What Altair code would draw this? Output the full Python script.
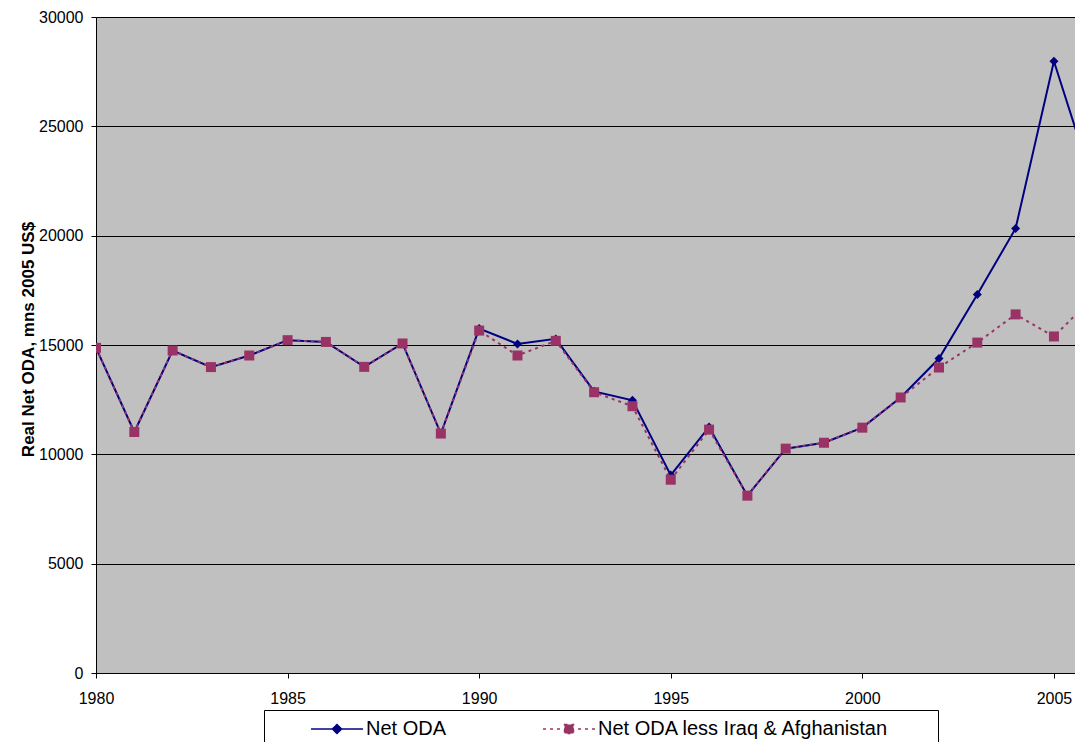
import altair as alt
import pandas as pd

years = list(range(1980, 2007))
net_oda = [14870, 11020, 14750, 13990, 14520, 15220, 15140, 14000, 15070, 10950,
           15750, 15050, 15280, 12880, 12470, 9050, 11250, 8110, 10260, 10530,
           11220, 12600, 14380, 17310, 20330, 27980, 22480]
net_oda_less = [14870, 11020, 14750, 13990, 14520, 15220, 15140, 14000, 15070, 10950,
                15660, 14520, 15190, 12840, 12200, 8840, 11130, 8110, 10260, 10530,
                11220, 12600, 13970, 15110, 16400, 15390, 17140]
series_names = ["Net ODA", "Net ODA less Iraq & Afghanistan"]
series_colors = ["#000080", "#993366"]
x_ticks = [1980, 1985, 1990, 1995, 2000, 2005]
y_ticks = [0, 5000, 10000, 15000, 20000, 25000, 30000]

rows = []
for name, vals in zip(series_names, [net_oda, net_oda_less]):
    for yr, v in zip(years, vals):
        rows.append({"year": yr, "value": v, "series": name})
df = pd.DataFrame(rows)

FONT = "Liberation Sans"

base = alt.Chart(df).encode(
    x=alt.X("year:Q",
            scale=alt.Scale(domain=[1980, 2005.55], nice=False, zero=False),
            axis=alt.Axis(values=x_ticks, format="d", grid=False, tickSize=5,
                          labelPadding=12, labelFlush=False, labelOverlap=False,
                          title=None)),
    y=alt.Y("value:Q",
            scale=alt.Scale(domain=[0, 30000], nice=False),
            axis=alt.Axis(values=y_ticks, format="d", grid=True, tickSize=5,
                          labelPadding=8, labelFlush=False, labelOverlap=False,
                          title="Real Net ODA, mns 2005 US$",
                          titleX=-63, titleY=322, titleAngle=270,
                          titleBaseline="alphabetic", titleFontSize=17,
                          titleFontWeight="bold", titleFont=FONT,
                          titleColor="black")),
)

net_line = base.transform_filter(alt.datum.series == series_names[0]).mark_line(
    color=series_colors[0], strokeWidth=2, clip=True)
net_pts = base.transform_filter(alt.datum.series == series_names[0]).mark_point(
    shape="diamond", filled=True, size=81, color=series_colors[0], opacity=1, clip=True)
less_line = base.transform_filter(alt.datum.series == series_names[1]).mark_line(
    color=series_colors[1], strokeWidth=2, strokeDash=[3, 4], clip=True)
less_pts = base.transform_filter(alt.datum.series == series_names[1]).mark_point(
    shape="square", filled=True, size=100, color=series_colors[1], opacity=1, clip=True)

path_net = "M-1.111,0M3.111,0L8.889,0M6,-0.5L6.5,0L6,0.5L5.5,0Z"
path_less = "M-1.111,0M3.111,0L8.889,0M5.5,-0.5L6.5,-0.5L6.5,0.5L5.5,0.5Z"
pad_txt = "\u00a0" * 7 + "\u200b"

leg = alt.Legend(orient="none", legendX=168, legendY=693, direction="horizontal",
                 labelFont=FONT, labelFontSize=20, labelColor="black",
                 labelOffset=73, labelLimit=600,
                 labelExpr="datum.label + '" + pad_txt + "'",
                 symbolSize=324, symbolStrokeWidth=1.5, symbolOpacity=1,
                 symbolFillColor="black", symbolStrokeColor="black",
                 columnPadding=17, padding=9, strokeColor="black", fillColor="white")

legend_layer = alt.Chart(df).transform_filter("false").mark_point(
    filled=True, opacity=1, size=324, strokeWidth=1.5).encode(
    fill=alt.Fill("series:N", scale=alt.Scale(domain=series_names, range=series_colors),
                  legend=leg, title=None),
    stroke=alt.Stroke("series:N", scale=alt.Scale(domain=series_names, range=series_colors),
                      legend=leg, title=None),
    shape=alt.Shape("series:N", scale=alt.Scale(domain=series_names, range=[path_net, path_less]),
                    legend=leg, title=None),
    strokeDash=alt.StrokeDash("series:N", scale=alt.Scale(domain=series_names, range=[[1, 0], [3, 4]]),
                              legend=leg, title=None),
)

chart = alt.layer(net_line, net_pts, less_line, less_pts, legend_layer).properties(
    width=979, height=656,
    autosize=alt.AutoSizeParams(type="none"),
    padding={"left": 88, "top": 9, "right": 0, "bottom": 69},
    background="white",
    view=alt.ViewBackground(fill="#C0C0C0", stroke="transparent"),
).configure_view(
    fill="#C0C0C0", stroke="transparent"
).configure_axis(
    labelFont=FONT, labelFontSize=16, labelColor="black",
    domainColor="black", domainWidth=1, tickColor="black", tickWidth=1,
    gridColor="black", gridWidth=1, gridOpacity=1,
)

chart.save("out.html", embed_options={"renderer": "svg", "actions": False})
